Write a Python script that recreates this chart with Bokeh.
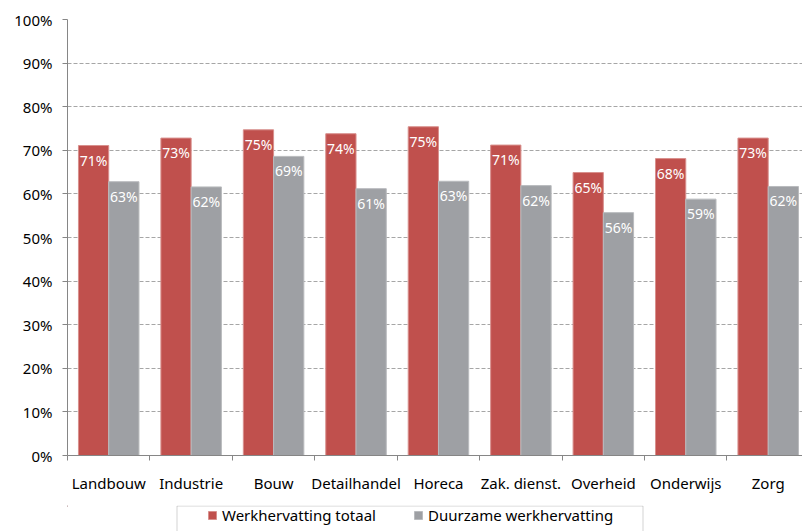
import numpy as np
from bokeh.plotting import figure
from bokeh.layouts import column
from bokeh.models import (FixedTicker, PrintfTickFormatter, Legend, LegendItem,
                          BoxAnnotation, Range1d, ColumnDataSource)
from bokeh.core.properties import value
from bokeh.embed import file_html
from bokeh.resources import INLINE

categories = ["Landbouw", "Industrie", "Bouw", "Detailhandel", "Horeca",
              "Zak. dienst.", "Overheid", "Onderwijs", "Zorg"]
totaal = [71.1, 72.8, 74.7, 73.8, 75.4, 71.2, 64.9, 68.1, 72.8]
duurzaam = [62.8, 61.6, 68.6, 61.2, 62.9, 61.9, 55.7, 58.8, 61.7]
series_names = ["Werkhervatting totaal", "Duurzame werkhervatting"]
y_ticks = list(range(0, 101, 10))

FONT = "Noto Sans"
RED = "#C0504D"
GRAY = "#9EA0A4"
AXIS = "#868686"

centers = np.arange(len(categories)) + 0.5
bw = 0.367

p = figure(width=802, height=505, x_range=Range1d(0, 8.916), y_range=Range1d(0, 100),
           output_backend="svg", toolbar_location=None,
           min_border_left=67, min_border_right=0, min_border_top=19, min_border_bottom=50)
p.outline_line_color = None

src_r = ColumnDataSource(dict(x=centers - bw / 2, top=totaal,
                              lab=[f"{round(v)}%" for v in totaal]))
src_g = ColumnDataSource(dict(x=centers + bw / 2, top=duurzaam,
                              lab=[f"{round(v)}%" for v in duurzaam]))

p.vbar(x="x", top="top", bottom=0, width=bw, source=src_r,
       fill_color=RED, line_color="#D8908D", line_width=1)
p.vbar(x="x", top="top", bottom=0, width=bw, source=src_g,
       fill_color=GRAY, line_color="#B9BBBE", line_width=1)

for s in (src_r, src_g):
    p.text(x="x", y="top", text="lab", source=s, text_align="center",
           text_baseline="top", y_offset=5, text_color="white",
           text_font=value(FONT), text_font_size="14px")

# x axis
p.xaxis.ticker = FixedTicker(ticks=list(centers), minor_ticks=list(range(len(categories) + 1)))
p.xaxis.major_label_overrides = {float(c): n for c, n in zip(centers, categories)}
p.xaxis.major_tick_line_color = None
p.xaxis.major_tick_out = 0
p.xaxis.major_tick_in = 0
p.xaxis.minor_tick_line_color = AXIS
p.xaxis.minor_tick_out = 5
p.xaxis.minor_tick_in = 0
p.xaxis.axis_line_color = AXIS
p.xaxis.major_label_standoff = 12
p.xaxis.major_label_text_font = FONT
p.xaxis.major_label_text_font_size = "15px"
p.xaxis.major_label_text_color = "#000000"

# y axis
p.yaxis.ticker = FixedTicker(ticks=y_ticks)
p.yaxis.formatter = PrintfTickFormatter(format="%d%%")
p.yaxis.major_tick_out = 5
p.yaxis.major_tick_in = 0
p.yaxis.major_tick_line_color = AXIS
p.yaxis.minor_tick_line_color = None
p.yaxis.axis_line_color = AXIS
p.yaxis.major_label_standoff = 10
p.yaxis.major_label_text_font = FONT
p.yaxis.major_label_text_font_size = "15px"
p.yaxis.major_label_text_color = "#000000"

p.xgrid.visible = False
p.ygrid.ticker = FixedTicker(ticks=y_ticks)
p.ygrid.grid_line_color = "#A6A6A6"
p.ygrid.grid_line_dash = "4 2"

# legend strip (separate figure below the chart; its frame is aligned with the chart's)
lg = figure(width=802, height=26, x_range=Range1d(67, 802), y_range=Range1d(26, 0),
            output_backend="svg", toolbar_location=None,
            x_axis_location=None, y_axis_location=None,
            min_border_left=67, min_border_right=0, min_border_top=0, min_border_bottom=0)
lg.outline_line_color = None
lg.xgrid.visible = False
lg.ygrid.visible = False

lg.add_layout(BoxAnnotation(left=176.5, right=642.5, top=0.5, bottom=60,
                            fill_alpha=0, line_color="#6E6E6E", line_width=1))

# swatch renderers (their single bar lies outside the visible range)
sw_r = lg.vbar(x=[-100], top=[1], width=1, fill_color=RED, line_color="#D8908D")
sw_g = lg.vbar(x=[-100], top=[1], width=1, fill_color=GRAY, line_color="#B9BBBE")

for r, name, xpos in ((sw_r, series_names[0], 207), (sw_g, series_names[1], 413)):
    leg = Legend(items=[LegendItem(label=name, renderers=[r])], location=(xpos - 67, 6),
                 orientation="horizontal", padding=0, margin=0, spacing=0,
                 glyph_width=10, glyph_height=10, label_height=10, label_standoff=5,
                 border_line_color=None, background_fill_alpha=0,
                 label_text_font=FONT, label_text_font_size="15px",
                 label_text_color="#000000", label_text_baseline="middle")
    lg.add_layout(leg, "center")

layout = column(p, lg, spacing=0)
open("out.html", "w").write(file_html(layout, INLINE))
